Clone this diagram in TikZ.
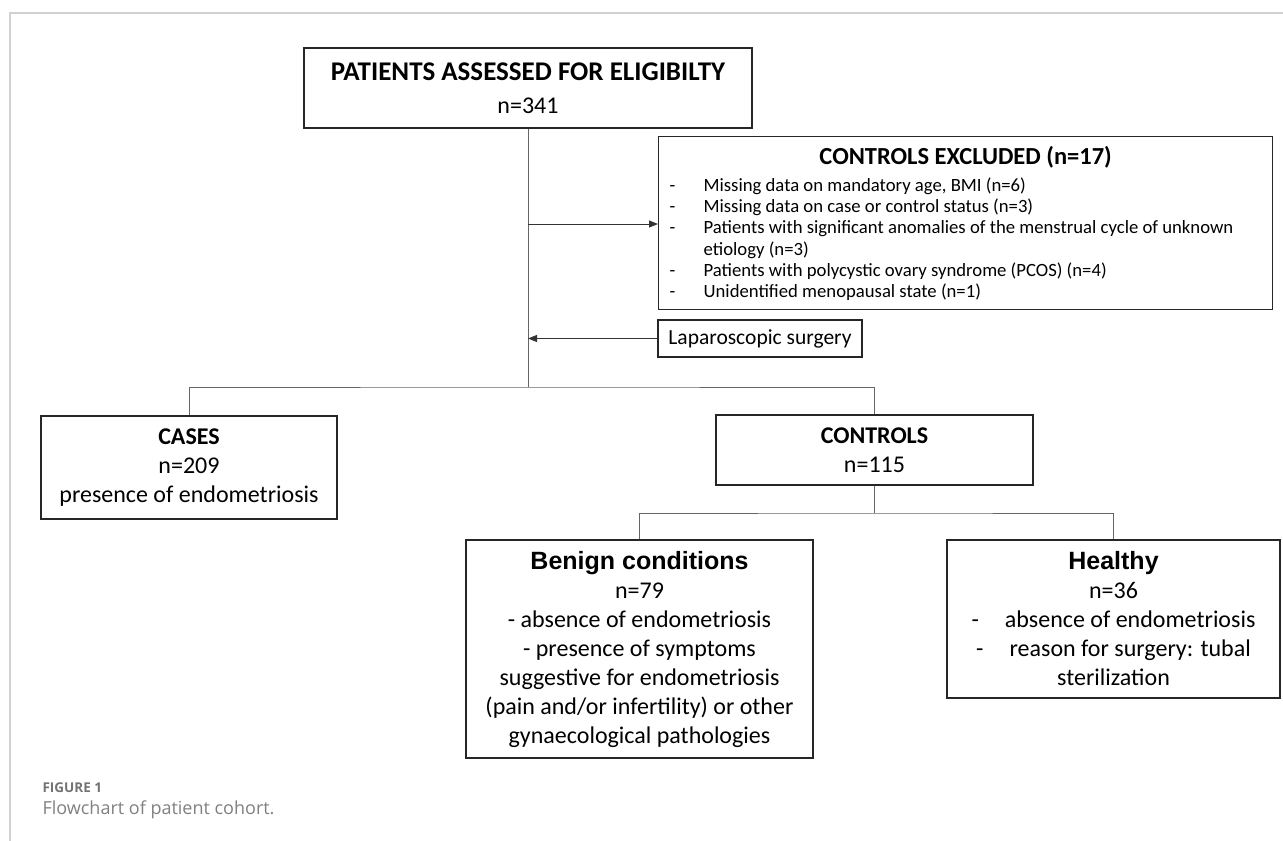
\documentclass[tikz,border=0pt]{standalone}
\usepackage{fontspec}
\setmainfont{Carlito}
\newfontfamily\arialfont{Liberation Sans}
\newfontfamily\capfont{Open Sans}
\usetikzlibrary{arrows.meta, positioning}

\newcommand{\dashitem}{\makebox[34pt][l]{-}}
\newcommand{\dashcont}{\hspace*{34pt}}

\tikzset{
  box/.style={draw=black!85, line width=1.3pt, inner sep=0pt, align=center,
    font=\fontsize{24}{29}\selectfont},
  link/.style={draw=black!60, line width=1pt},
  arr/.style={draw=black!80, line width=1pt, -{Triangle[length=9pt,width=7pt]}},
}

\begin{document}
\begin{tikzpicture}[x=1pt,y=-1pt]
\useasboundingbox (0,0) rectangle (1283,841);
% page frame
\draw[black!18, line width=2pt] (1283,13) -- (10,13) -- (10,841);

% boxes
\node[box, minimum width=448, minimum height=80, font=\fontsize{24}{32}\selectfont] (patients) at (528,88)
  {{\bfseries\fontsize{27}{32}\selectfont PATIENTS ASSESSED FOR ELIGIBILTY}\\[1pt]n=341};

\node[box, anchor=north west, minimum width=614, minimum height=173, inner xsep=11pt, inner ysep=10pt] (excluded) at (658,136)
  {\parbox[c][153pt][t]{592pt}{%
   {\centering\bfseries\fontsize{24.5}{26}\selectfont CONTROLS EXCLUDED (n=17)\par}
   \vspace{5.5pt}
   \raggedright\fontsize{18.7}{21.2}\selectfont
   \dashitem Missing data on mandatory age, BMI (n=6)\par
   \dashitem Missing data on case or control status (n=3)\par
   \dashitem Patients with significant anomalies of the menstrual cycle of unknown\par
   \dashcont etiology (n=3)\par
   \dashitem Patients with polycystic ovary syndrome (PCOS) (n=4)\par
   \dashitem Unidentified menopausal state (n=1)\par}};

\node[box, minimum width=204, minimum height=37, font=\fontsize{21.5}{24}\selectfont] (lap) at (760,338.5)
  {Laparoscopic surgery};

\node[box, minimum width=296, minimum height=103] (cases) at (189,467.5)
  {\textbf{CASES}\\n=209\\presence of endometriosis};

\node[box, minimum width=317, minimum height=70] (controls) at (874.5,450)
  {\textbf{CONTROLS}\\n=115};

\node[box, minimum width=347, minimum height=218] (benign) at (639.5,649)
  {{\arialfont\bfseries\fontsize{25}{29}\selectfont Benign conditions}\\n=79\\- absence of endometriosis\\
   - presence of symptoms\\suggestive for endometriosis\\(pain and/or infertility) or other\\
   gynaecological pathologies};

\node[box, minimum width=333, minimum height=158] (healthy) at (1113.5,619)
  {{\arialfont\bfseries\fontsize{25}{29}\selectfont Healthy}\\n=36\\
   -\hspace{26pt}absence of endometriosis\\-\hspace{26pt}reason for surgery: tubal\\sterilization};

% connectors
\coordinate (split) at (patients.south |- 0,387);
\coordinate (exc) at (patients.south |- 0,224);
\coordinate (split2) at (controls.south |- 0,513);
\draw[link] (patients.south) -- (split);
\draw[arr] (exc) -- (exc -| excluded.west);
\draw[arr] (lap.west) -- (lap.west -| patients.south);
\draw[link] (cases.north) |- (split) -| (controls.north);
\draw[link] (controls.south) -- (split2);
\draw[link] (benign.north) |- (split2) -| (healthy.north);

% caption
\node[anchor=base west, text=black!55, font=\capfont\bfseries\fontsize{13.5}{16}\selectfont] (figlabel) at (39,792) {FIGURE 1};
\node[anchor=base west, text=black!50, font=\capfont\fontsize{18}{21}\selectfont] (figtext) at (39,814) {Flowchart of patient cohort.};
\end{tikzpicture}
\end{document}
